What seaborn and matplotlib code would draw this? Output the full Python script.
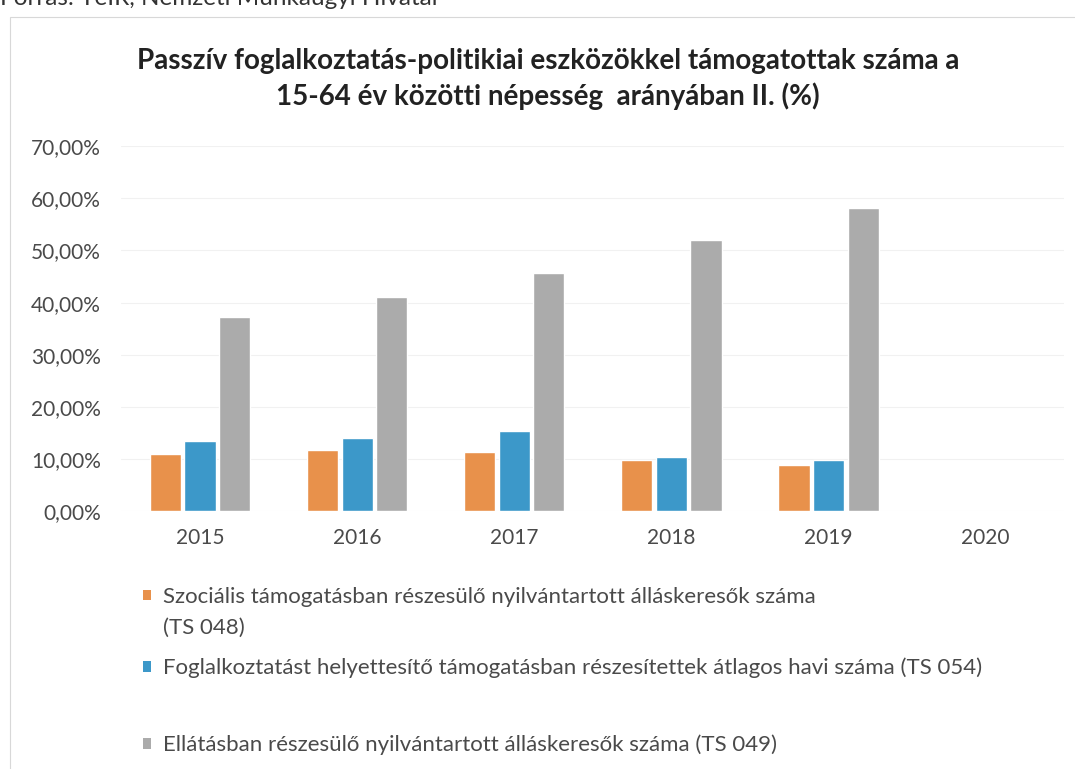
import numpy as np
import pandas as pd
import matplotlib
matplotlib.use("Agg")
import matplotlib.pyplot as plt
import seaborn as sns
from matplotlib.patches import Rectangle
from matplotlib.ticker import FuncFormatter

years = ["2015", "2016", "2017", "2018", "2019", "2020"]
series_names = [
    "Szociális támogatásban részesülő nyilvántartott álláskeresők száma (TS 048)",
    "Foglalkoztatást helyettesítő támogatásban részesítettek átlagos havi száma (TS 054)",
    "Ellátásban részesülő nyilvántartott álláskeresők száma (TS 049)",
]
ts048 = [11.0, 11.8, 11.3, 9.8, 8.8, np.nan]
ts054 = [13.5, 14.0, 15.5, 10.4, 9.8, np.nan]
ts049 = [37.2, 41.0, 45.7, 52.1, 58.1, np.nan]
colors = ["#E8914B", "#3C98C9", "#ABABAB"]

title = ("Passzív foglalkoztatás-politikiai eszközökkel támogatottak száma a\n"
         "15-64 év közötti népesség  arányában II. (%)")
source = "Forrás: TeIR, Nemzeti Munkaügyi Hivatal"

rows = []
for name, vals in zip(series_names, [ts048, ts054, ts049]):
    for y, v in zip(years, vals):
        rows.append({"year": y, "series": name, "value": v})
df = pd.DataFrame(rows).dropna()

sns.set_theme(style="white")
plt.rcParams["font.family"] = ["Lato", "DejaVu Sans"]

fig = plt.figure(figsize=(10.75, 7.69), dpi=100)
ax = fig.add_axes([0.113, 0.335, 0.877, 0.475])

sns.barplot(data=df, x="year", y="value", hue="series", order=years,
            hue_order=series_names, palette=colors, width=0.66, gap=0.1,
            saturation=1, ax=ax, legend=False)

ax.set_ylim(0, 70)
ax.set_xlim(-0.5, 5.5)
ax.set_yticks(range(0, 71, 10))
ax.yaxis.set_major_formatter(FuncFormatter(lambda v, _: f"{v:.2f}%".replace(".", ",")))
ax.grid(axis="y", color="#F1F1F1", linewidth=0.8)
ax.set_axisbelow(True)
for s in ax.spines.values():
    s.set_visible(False)
ax.set_xlabel("")
ax.set_ylabel("")
ax.tick_params(axis="x", length=0, labelsize=15, colors="#4A4A4A", pad=12)
ax.tick_params(axis="y", length=0, labelsize=15, colors="#4A4A4A", pad=15)

fig.text(0.51, 0.897, title, ha="center", va="center", fontsize=20,
         fontweight="bold", color="#222222", linespacing=1.35)
fig.text(0.0, 1.002, source, ha="left", va="center", fontsize=17.5, color="#333333")

# chart frame
fig.patches.append(Rectangle((0.009, -0.1), 1.2, 1.078, transform=fig.transFigure,
                             fill=False, edgecolor="#D8D8D8", linewidth=0.8))

# legend, one entry per block
labels_shown = [
    "Szociális támogatásban részesülő nyilvántartott álláskeresők száma",
    series_names[1],
    series_names[2],
]
legend_y = [0.2237, 0.1313, 0.0312]
legends = []
for lab, col, ly in zip(labels_shown, colors, legend_y):
    h = Rectangle((0, 0), 1, 1, facecolor=col, edgecolor="none")
    leg = fig.legend(handles=[h], labels=[lab], loc="center left",
                     bbox_to_anchor=(0.133, ly), frameon=False, handlelength=0.35,
                     handleheight=0.35, handletextpad=0.55, fontsize=16,
                     labelcolor="#4A4A4A", borderpad=0, borderaxespad=0)
    legends.append(leg)

# second line of the first (wrapped) legend entry
fig.canvas.draw()
x0 = legends[0].get_texts()[0].get_window_extent().x0 / fig.bbox.width
fig.text(x0, 0.1834, "(TS 048)", ha="left", va="center", fontsize=16, color="#4A4A4A")

fig.savefig("out.png", dpi=100)
